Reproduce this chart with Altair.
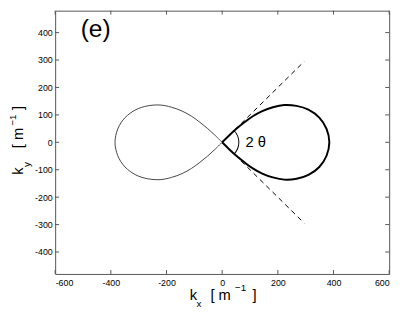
import math
import altair as alt
import pandas as pd

# Right lobe (thick), traced from the origin
right_kx = [0, 25, 52, 80, 110, 144, 182, 223, 267, 310, 349, 375, 385,
            375, 349, 310, 267, 223, 182, 144, 110, 80, 52, 25, 0]
right_ky = [0, 25, 50, 73, 95, 114, 128, 136, 133, 119, 90, 49, 0,
            -49, -90, -119, -133, -136, -128, -114, -95, -73, -50, -25, 0]
# Left lobe (thin)
left_kx = [0, -25, -52, -80, -110, -144, -182, -223, -267, -310, -349, -375, -385,
           -375, -349, -310, -267, -223, -182, -144, -110, -80, -52, -25, 0]
left_ky = [0, 25, 50, 73, 95, 114, 128, 136, 133, 119, 90, 49, 0,
           -49, -90, -119, -133, -136, -128, -114, -95, -73, -50, -25, 0]
# Dashed asymptote lines
dash_kx = [0, 295, 0, 295]
dash_ky = [0, 295, 0, -295]
dash_seg = ["up", "up", "down", "down"]

x_ticks = [-600, -400, -200, 0, 200, 400, 600]
y_ticks = [-400, -300, -200, -100, 0, 100, 200, 300, 400]

W, H = 340, 268
FONT = "Liberation Sans"

xs = alt.Scale(domain=[-600, 600], nice=False, zero=False)
ys = alt.Scale(domain=[-480, 480], nice=False, zero=False)

xaxis = alt.Axis(values=x_ticks, ticks=False, domain=False, grid=False,
                 labelExpr="'' + datum.value", labelFontSize=9, labelPadding=5,
                 labelOverlap=False, labelColor="black", labelFont=FONT, title=None)
yaxis = alt.Axis(values=y_ticks, ticks=False, domain=False, grid=False,
                 labelExpr="'' + datum.value", labelFontSize=9, labelPadding=3,
                 labelOverlap=False, labelColor="black", labelFont=FONT, title=None)


def X(field=None, datum=None):
    if field is not None:
        return alt.X(field, scale=xs, axis=xaxis)
    return alt.X(datum=datum, scale=xs, axis=xaxis)


def Y(field=None, datum=None):
    if field is not None:
        return alt.Y(field, scale=ys, axis=yaxis)
    return alt.Y(datum=datum, scale=ys, axis=yaxis)


right_df = pd.DataFrame({"kx": right_kx, "ky": right_ky, "i": list(range(len(right_kx)))})
left_df = pd.DataFrame({"kx": left_kx, "ky": left_ky, "i": list(range(len(left_kx)))})
dash_df = pd.DataFrame({"kx": dash_kx, "ky": dash_ky, "seg": dash_seg})
one = pd.DataFrame({"a": [0]})

left = alt.Chart(left_df).mark_line(color="#444", strokeWidth=1, interpolate="cardinal").encode(
    x=X("kx:Q"), y=Y("ky:Q"), order="i:Q",
)
right = alt.Chart(right_df).mark_line(color="black", strokeWidth=2, interpolate="cardinal").encode(
    x=X("kx:Q"), y=Y("ky:Q"), order="i:Q",
)
dash = alt.Chart(dash_df).mark_line(color="black", strokeWidth=1, strokeDash=[5, 4]).encode(
    x=X("kx:Q"), y=Y("ky:Q"), detail="seg:N",
)
arc = alt.Chart(one).mark_arc(theta=math.pi / 4, theta2=3 * math.pi / 4,
                              innerRadius=16.5, outerRadius=17.5, color="black").encode(
    x=X(datum=0), y=Y(datum=0),
)
theta_txt = alt.Chart(one).mark_text(text="2 θ", align="left", baseline="middle",
                                     fontSize=15, font=FONT, color="black").encode(
    x=X(datum=84), y=Y(datum=0),
)

xt_df = pd.DataFrame({"v": x_ticks})
yt_df = pd.DataFrame({"v": y_ticks})
TC = "#555"
xt_bot = alt.Chart(xt_df).mark_rule(color=TC).encode(x=X("v:Q"), y=alt.value(H), y2=alt.value(H - 4))
xt_top = alt.Chart(xt_df).mark_rule(color=TC).encode(x=X("v:Q"), y=alt.value(0), y2=alt.value(4))
yt_l = alt.Chart(yt_df).mark_rule(color=TC).encode(y=Y("v:Q"), x=alt.value(0), x2=alt.value(4))
yt_r = alt.Chart(yt_df).mark_rule(color=TC).encode(y=Y("v:Q"), x=alt.value(W), x2=alt.value(W - 4))


def txt(s, x, y, size, angle=0, baseline="alphabetic"):
    kw = dict(text=s, align="left", baseline=baseline, fontSize=size, font=FONT, color="black")
    if angle:
        kw["angle"] = angle
    return alt.Chart(one).mark_text(**kw).encode(x=alt.value(x), y=alt.value(y))


panel = txt("(e)", 26, 27, 25)

# x axis title: k_x [ m^-1 ]
xt1 = txt("k", 137, 295, 15)
xt2 = txt("x", 144, 302, 10)
xt3 = txt("[ m", 158, 295, 15)
xt4 = txt("−1", 183, 285, 10)
xt5 = txt("]", 201, 295, 15)

# y axis title (rotated): k_y [ m^-1 ]
yt1 = txt("k", -33, 167, 15, angle=270)
yt2 = txt("y", -26, 159, 10, angle=270)
yt3 = txt("[ m", -33, 140, 15, angle=270)
yt4 = txt("−1", -40, 117, 10, angle=270)
yt5 = txt("]", -33, 101, 15, angle=270)

chart = alt.layer(
    left, dash, right, arc, theta_txt,
    xt_bot, xt_top, yt_l, yt_r,
    panel, xt1, xt2, xt3, xt4, xt5, yt1, yt2, yt3, yt4, yt5,
).properties(
    width=W, height=H,
    autosize=alt.AutoSizeParams(type="none"),
    padding={"left": 48, "top": 0, "right": 10, "bottom": 36},
).configure_view(stroke="#555", strokeWidth=1)

chart.save("out.html", embed_options={"renderer": "svg", "actions": False})
